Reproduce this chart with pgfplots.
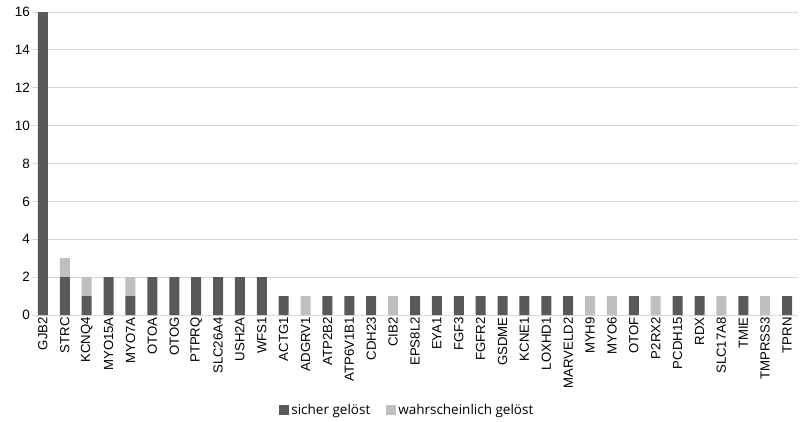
\documentclass[border=0pt]{standalone}
\usepackage{pgfplots}
\pgfplotsset{compat=1.18}
\usepackage{fontspec}
\setmainfont{Liberation Sans}
\newfontfamily\legfont{Open Sans}
\definecolor{darkbar}{HTML}{595959}
\definecolor{lightbar}{HTML}{BFBFBF}
\definecolor{gridc}{HTML}{D9D9D9}
\begin{document}
\begin{tikzpicture}[x=1pt,y=1pt]
\useasboundingbox (-32,-106) rectangle (771,315);
\begin{axis}[
  at={(0,0)}, anchor=south west,
  scale only axis,
  width=766pt, height=303pt,
  ybar stacked,
  bar width=10pt,
  xmin=-0.5, xmax=34.5,
  ymin=0, ymax=16,
  ytick={0,2,...,16},
  xtick=data,
  xticklabels={GJB2,STRC,KCNQ4,MYO15A,MYO7A,OTOA,OTOG,PTPRQ,SLC26A4,USH2A,WFS1,ACTG1,ADGRV1,ATP2B2,ATP6V1B1,CDH23,CIB2,EPS8L2,EYA1,FGF3,FGFR2,GSDME,KCNE1,LOXHD1,MARVELD2,MYH9,MYO6,OTOF,P2RX2,PCDH15,RDX,SLC17A8,TMIE,TMPRSS3,TPRN},
  x tick label style={rotate=90, anchor=east, font=\fontsize{13.2}{15}\selectfont, inner sep=2pt},
  y tick label style={font=\fontsize{13.5}{15}\selectfont, inner sep=2pt},
  /pgf/number format/assume math mode=true,
  major tick length=0pt,
  ymajorgrids, grid style={gridc, line width=0.8pt},
  axis x line*=bottom, axis y line*=left,
  y axis line style={draw=none},
  x axis line style={gridc, line width=0.8pt, -},
  legend style={at={(0.49,-0.3135)}, anchor=center, draw=none, legend columns=2,
    font=\legfont\fontsize{13.5}{15}\selectfont,
    /tikz/every even column/.append style={column sep=14pt}},
  legend image code/.code={\fill[#1] (0pt,-5pt) rectangle (10pt,5pt);},
]
\addplot[fill=darkbar, draw=none] coordinates {
(0,16) (1,2) (2,1) (3,2) (4,1) (5,2) (6,2) (7,2) (8,2) (9,2) (10,2) (11,1) (12,0) (13,1) (14,1) (15,1) (16,0) (17,1) (18,1) (19,1) (20,1) (21,1) (22,1) (23,1) (24,1) (25,0) (26,0) (27,1) (28,0) (29,1) (30,1) (31,0) (32,1) (33,0) (34,1)};
\addlegendentry{sicher gelöst}
\addplot[fill=lightbar, draw=none] coordinates {
(0,0) (1,1) (2,1) (3,0) (4,1) (5,0) (6,0) (7,0) (8,0) (9,0) (10,0) (11,0) (12,1) (13,0) (14,0) (15,0) (16,1) (17,0) (18,0) (19,0) (20,0) (21,0) (22,0) (23,0) (24,0) (25,1) (26,1) (27,0) (28,1) (29,0) (30,0) (31,1) (32,0) (33,1) (34,0)};
\addlegendentry{wahrscheinlich gelöst}
\end{axis}
\end{tikzpicture}
\end{document}
